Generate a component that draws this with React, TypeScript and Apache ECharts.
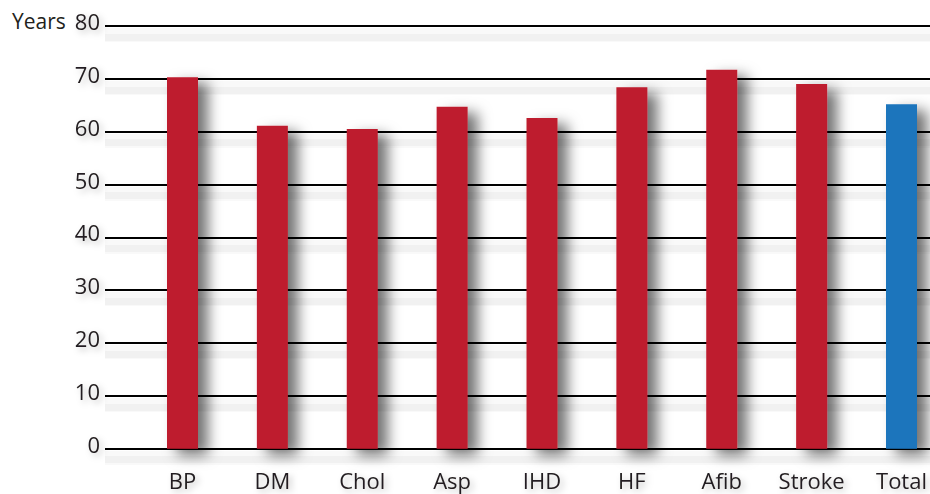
import React, { useEffect, useRef } from "react";
import * as echarts from "echarts";

const categories = ["BP", "DM", "Chol", "Asp", "IHD", "HF", "Afib", "Stroke", "Total"];
const ageValues = [70.3, 61.1, 60.5, 64.7, 62.6, 68.4, 71.7, 69.0, 65.2];
const highlightCategory = "Total";
const yTicks = { min: 0, max: 80, interval: 10 };
const yAxisTitle = "Years";

const RED = "#BE1E2D";
const BLUE = "#1C75BC";
const TEXT = "#231F20";
const FONT = "'Open Sans', 'Noto Sans', sans-serif";

export default function App() {
  const ref = useRef<HTMLDivElement>(null);
  useEffect(() => {
    if (!ref.current) return;
    const chart = echarts.init(ref.current, null, { renderer: "svg" });
    const textShadow = {
      textShadowColor: "rgba(0,0,0,0.25)",
      textShadowBlur: 6,
      textShadowOffsetX: 3,
      textShadowOffsetY: 3,
    };
    const shadowAxis = (gridIndex: number, width: number, color: string) => ({
      gridIndex,
      type: "value",
      min: yTicks.min,
      max: yTicks.max,
      interval: yTicks.interval,
      axisLine: { show: false },
      axisTick: { show: false },
      axisLabel: { show: false },
      splitLine: { show: true, lineStyle: { color, width } },
    });
    chart.setOption({
      animation: false,
      backgroundColor: "#ffffff",
      grid: [
        { left: 105, right: 0, top: 26, bottom: 45.3 },
        { left: 182.5, right: 28.5, top: 26, bottom: 45.3 },
        { left: 105, right: 0, top: 35, bottom: 36.3 },
        { left: 105, right: 0, top: 37, bottom: 34.3 },
      ],
      xAxis: [
        { gridIndex: 0, type: "category", data: categories, show: false },
        {
          gridIndex: 1,
          type: "category",
          data: categories,
          boundaryGap: false,
          axisLine: { show: false },
          axisTick: { show: false },
          splitLine: { show: false },
          axisLabel: {
            margin: 20,
            fontSize: 22,
            lineHeight: 22,
            fontFamily: FONT,
            color: TEXT,
            ...textShadow,
          },
        },
        { gridIndex: 2, type: "category", data: categories, show: false },
        { gridIndex: 3, type: "category", data: categories, show: false },
      ],
      yAxis: [
        {
          gridIndex: 0,
          type: "value",
          min: yTicks.min,
          max: yTicks.max,
          interval: yTicks.interval,
          z: 3,
          axisLine: { show: false },
          axisTick: { show: false },
          axisLabel: {
            margin: 5,
            fontSize: 22,
            fontFamily: FONT,
            color: TEXT,
            verticalAlign: "bottom",
            lineHeight: 10,
            ...textShadow,
          },
          splitLine: {
            show: true,
            lineStyle: { color: "#000000", width: 2 },
          },
        },
        {
          gridIndex: 1,
          type: "value",
          min: yTicks.min,
          max: yTicks.max,
          interval: yTicks.interval,
          show: false,
          splitLine: { show: false },
        },
        shadowAxis(2, 14, "rgba(0,0,0,0.025)"),
        shadowAxis(3, 7, "rgba(0,0,0,0.03)"),
      ],
      graphic: [
        {
          type: "text",
          left: 12,
          top: 10,
          style: {
            text: yAxisTitle,
            fontSize: 21,
            fontFamily: FONT,
            fill: TEXT,
            shadowColor: "rgba(0,0,0,0.25)",
            shadowBlur: 6,
            shadowOffsetX: 3,
            shadowOffsetY: 3,
          },
        },
      ],
      series: [
        {
          type: "bar",
          xAxisIndex: 1,
          yAxisIndex: 1,
          barWidth: 31,
          clip: false,
          z: 5,
          data: ageValues.map((v, i) => ({
            value: v,
            itemStyle: {
              color: categories[i] === highlightCategory ? BLUE : RED,
            },
          })),
          itemStyle: {
            shadowColor: "rgba(0,0,0,0.55)",
            shadowBlur: 14,
            shadowOffsetX: 10,
            shadowOffsetY: 6,
          },
        },
      ],
    });
    return () => chart.dispose();
  }, []);
  return (
    <div
      ref={ref}
      style={{ position: "absolute", left: 0, top: 0, width: 930, height: 494 }}
    />
  );
}
